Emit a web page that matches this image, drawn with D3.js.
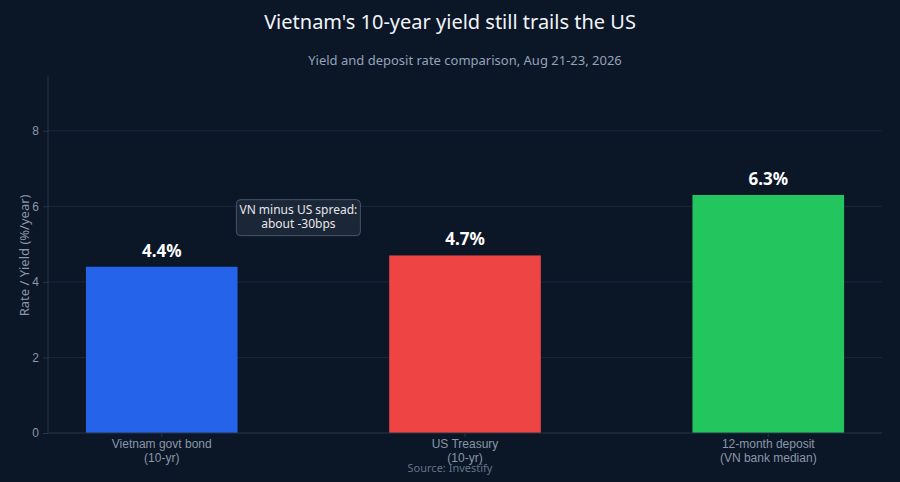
<!DOCTYPE html>
<html>
<head>
<meta charset="utf-8">
<script src="https://cdn.jsdelivr.net/npm/d3@7"></script>
<style>
  html, body { margin: 0; padding: 0; background: #0b1627; }
  svg { display: block; font-family: "Noto Sans", "Open Sans", sans-serif; }
</style>
</head>
<body>
<div class="vis-barchart"></div>
<script>
const categories = ["Vietnam govt bond|(10-yr)", "US Treasury|(10-yr)", "12-month deposit|(VN bank median)"];
const values = [4.4, 4.7, 6.3];
const barColors = ["#2563eb", "#ef4444", "#22c55e"];
const yTicks = [0, 2, 4, 6, 8];
const spreadNote = ["VN minus US spread:", "about -30bps"];
const spreadY = 5.7;

const W = 900, H = 482;
const margin = { top: 76, right: 18, bottom: 49, left: 48 };
const width = W - margin.left - margin.right;
const height = H - margin.top - margin.bottom;

const root = d3.select('.vis-barchart').append('svg')
    .attr('width', W)
    .attr('height', H);

root.append('rect').attr('width', W).attr('height', H).attr('fill', '#0b1627');

const svg = root.append('g')
    .attr('transform', `translate(${margin.left},${margin.top})`);

// Scales
const x = d3.scaleBand()
    .domain(categories)
    .range([0, width])
    .paddingInner(0.5)
    .paddingOuter(0.125);
const y = d3.scaleLinear()
    .domain([0, d3.max(values) * 1.5])
    .range([height, 0]);

// Grid
svg.selectAll('.grid')
    .data(yTicks.filter(t => t > 0))
    .enter().append('line')
    .attr('x1', 0).attr('x2', width)
    .attr('y1', d => y(d)).attr('y2', d => y(d))
    .attr('stroke', '#1c2838').attr('stroke-width', 1);

// Bars
svg.selectAll('.bar')
    .data(values)
    .enter().append('rect')
    .attr('x', (d, i) => x(categories[i]))
    .attr('width', x.bandwidth())
    .attr('y', d => y(d))
    .attr('height', d => height - y(d))
    .attr('fill', (d, i) => barColors[i]);

// Value labels
svg.selectAll('.val')
    .data(values)
    .enter().append('text')
    .attr('x', (d, i) => x(categories[i]) + x.bandwidth() / 2)
    .attr('y', d => y(d) - 10)
    .attr('text-anchor', 'middle')
    .attr('fill', '#ffffff')
    .style('font-size', '17px')
    .style('font-weight', 'bold')
    .text(d => d.toFixed(1) + '%');

// Y axis
const yAxis = svg.append('g')
    .call(d3.axisLeft(y).tickValues(yTicks).tickSize(5).tickPadding(4));
yAxis.select('.domain').attr('stroke', '#2a3647').attr('d', `M0,${height}V0`);
yAxis.selectAll('.tick line').attr('stroke', '#2a3647');
yAxis.selectAll('.tick text').attr('fill', '#8a97a8').style('font-size', '12px');

// X axis
const xAxis = svg.append('g')
    .attr('transform', `translate(0,${height})`)
    .call(d3.axisBottom(x).tickSize(4).tickFormat(''));
xAxis.select('.domain').attr('stroke', '#2a3647').attr('d', `M0,0H${width}`);
xAxis.selectAll('.tick line').attr('stroke', '#2a3647');
xAxis.selectAll('.tick').each(function (d) {
    const t = d3.select(this).append('text')
        .attr('fill', '#8a97a8')
        .attr('text-anchor', 'middle')
        .style('font-size', '12px');
    d.split('|').forEach((s, i) => {
        t.append('tspan').attr('x', 0).attr('y', 15 + i * 14).text(s);
    });
});

// Y label
svg.append('text')
    .attr('transform', 'rotate(-90)')
    .attr('x', -(y(4.7)))
    .attr('y', -margin.left + 29)
    .attr('text-anchor', 'middle')
    .attr('fill', '#8a97a8')
    .style('font-size', '13px')
    .text('Rate / Yield (%/year)');

// Spread annotation
const ax = (x(categories[0]) + x(categories[1]) + x.bandwidth()) / 2 - 15;
const ay = y(spreadY);
const note = svg.append('g').attr('transform', `translate(${ax},${ay})`);
note.append('rect')
    .attr('x', -62).attr('y', -18).attr('width', 124).attr('height', 36).attr('rx', 4)
    .attr('fill', '#1e293b').attr('fill-opacity', 0.85)
    .attr('stroke', '#475569').attr('stroke-width', 1);
note.selectAll('text').data(spreadNote).enter().append('text')
    .attr('x', 0).attr('y', (d, i) => -4 + i * 14)
    .attr('text-anchor', 'middle')
    .attr('fill', '#e5e7eb')
    .style('font-size', '12px')
    .text(d => d);

// Titles
root.append('text')
    .attr('x', W / 2).attr('y', 29)
    .attr('text-anchor', 'middle')
    .attr('fill', '#f1f5f9')
    .style('font-size', '20px')
    .text("Vietnam's 10-year yield still trails the US");
root.append('text')
    .attr('x', 465).attr('y', 65)
    .attr('text-anchor', 'middle')
    .attr('fill', '#94a3b8')
    .style('font-size', '13px')
    .text('Yield and deposit rate comparison, Aug 21-23, 2026');

// Source
root.append('text')
    .attr('x', W / 2).attr('y', 472)
    .attr('text-anchor', 'middle')
    .attr('fill', '#64748b')
    .style('font-size', '11px')
    .text('Source: Investify');
</script>
</body>
</html>
